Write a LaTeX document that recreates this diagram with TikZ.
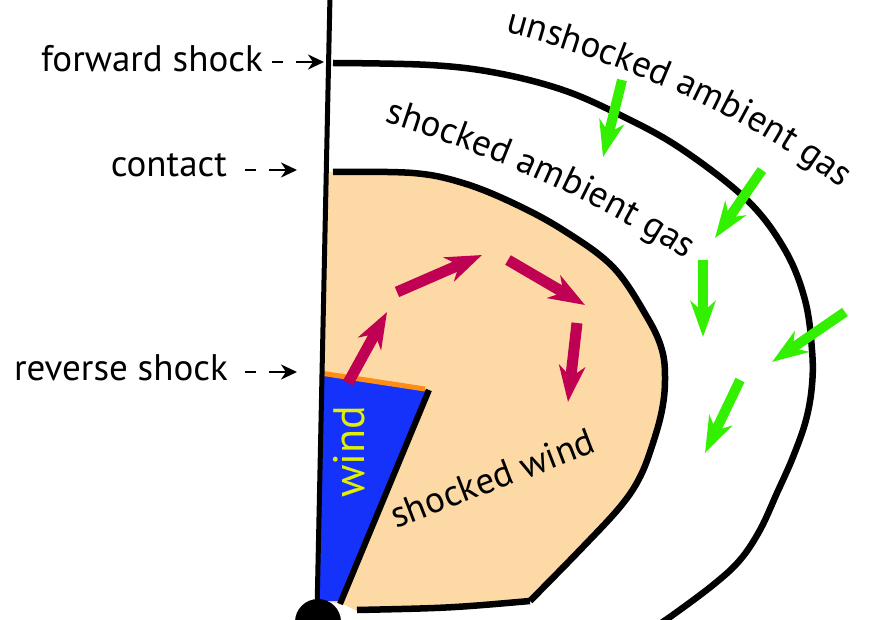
\documentclass[tikz,border=0pt]{standalone}
\usepackage{fontspec}
\setmainfont{PT Sans}
\usepackage{xcolor}
\definecolor{swtan}{RGB}{253,217,165}
\definecolor{swblue}{RGB}{20,50,250}
\definecolor{swyellow}{RGB}{225,240,0}
\definecolor{sworange}{RGB}{255,140,20}
\definecolor{swmagenta}{RGB}{192,0,82}
\definecolor{swgreen}{RGB}{50,240,0}
\usetikzlibrary{arrows.meta, decorations.text}
\newcommand{\lblfont}{\fontsize{37}{44}\selectfont}

\begin{document}
\begin{tikzpicture}[x=1pt, y=1pt,
  lbl/.style={font=\lblfont, anchor=base east, inner sep=0pt},
  lblarrow/.style={line width=2.5pt, dash pattern=on 11pt off 13pt on 60pt,
                   -{Stealth[length=16pt, width=15pt, inset=5pt]}},
  shell/.style={line width=6.5pt},
  flow/.style={line width=11pt, draw=swmagenta,
               -{Stealth[length=36pt, width=26pt, inset=11pt]}},
  infall/.style={line width=10pt, draw=swgreen,
                 -{Stealth[length=36pt, width=25pt, inset=11pt]}}
]
\useasboundingbox (0,0) rectangle (873,-620);

% shocked wind region
\fill[swtan] (325,-172) -- plot[smooth, tension=0.6] coordinates {(333,-172) (413,-173)
  (463,-183) (513,-203) (563,-230) (613,-267) (647,-317) (662,-350) (665,-380)
  (662,-410) (653,-443) (640,-477) (620,-507) (580,-550) (530,-601)}
  -- (447,-607) -- (357,-611) -- (343,-604) -- (318,-600) -- cycle;

% free wind
\fill[swblue] (320,-373) -- (427,-390) -- (341,-601) -- (318,-601) -- cycle;
\draw[line width=5pt, sworange] (320,-373) -- (425,-389);
\draw[line width=6pt] (429,-390) -- (340,-604);

% contact and forward shock
\draw[shell] plot[smooth, tension=0.6] coordinates {(333,-172) (413,-173)
  (463,-183) (513,-203) (563,-230) (613,-267) (647,-317) (662,-350) (665,-380)
  (662,-410) (653,-443) (640,-477) (620,-507) (580,-550) (530,-601)};
\draw[shell] (530,-601) .. controls (450,-608) .. (357,-610);
\draw[shell] plot[smooth, tension=0.6] coordinates {(333,-63) (430,-65)
  (497,-73) (563,-90) (620,-115) (680,-148) (747,-200) (785,-250) (805,-300)
  (812,-350) (812,-385) (806,-420) (793,-457) (777,-493) (760,-530) (740,-560)
  (713,-585) (670,-617) (650,-630)};

% axis and star
\draw[line width=5pt] (330,5) -- (317,-612);
\fill (318,-622) circle (23pt);

% flow inside shocked wind
\draw[flow] (348,-383) -- (387,-312);
\draw[flow] (397,-292) -- (482,-255);
\draw[flow] (508,-260) -- (585,-305);
\draw[flow] (577,-323) -- (568,-402);

% infalling ambient gas
\draw[infall] (622,-80) -- (603,-157);
\draw[infall] (762,-170) -- (715,-238);
\draw[infall] (703,-260) -- (703,-337);
\draw[infall] (845,-312) -- (772,-362);
\draw[infall] (740,-380) -- (705,-453);

% labels
\node[lbl] (fwd) at (263,-72) {forward shock};
\node[lbl] (cont) at (227,-177) {contact};
\node[lbl] (rev) at (228,-380) {reverse shock};
\coordinate (fwdtip) at (324,-62);
\coordinate (conttip) at (297,-170);
\coordinate (revtip) at (297,-372);
\draw[lblarrow] (fwd.east |- fwdtip) ++(9,0) -- (fwdtip);
\draw[lblarrow] (cont.east |- conttip) ++(18,0) -- (conttip);
\draw[lblarrow] (rev.east |- revtip) ++(17,0) -- (revtip);

\node[font=\fontsize{44}{50}\selectfont, text=swyellow, rotate=90, inner sep=0pt]
  (windlbl) at (349,-452) {wind};
\node[font=\lblfont, rotate=21, anchor=base, inner sep=0pt]
  (swlbl) at (497,-490) {shocked wind};

\path[decorate, decoration={text along path, text align=center,
  text={|\lblfont|unshocked ambient gas}}]
  (484,-26) .. controls (620,-60) and (760,-120) .. (858,-202);
\path[decorate, decoration={text along path, text align=center,
  text={|\lblfont|shocked ambient gas}}]
  (366,-116) .. controls (480,-150) and (600,-200) .. (702,-270);
\end{tikzpicture}
\end{document}
